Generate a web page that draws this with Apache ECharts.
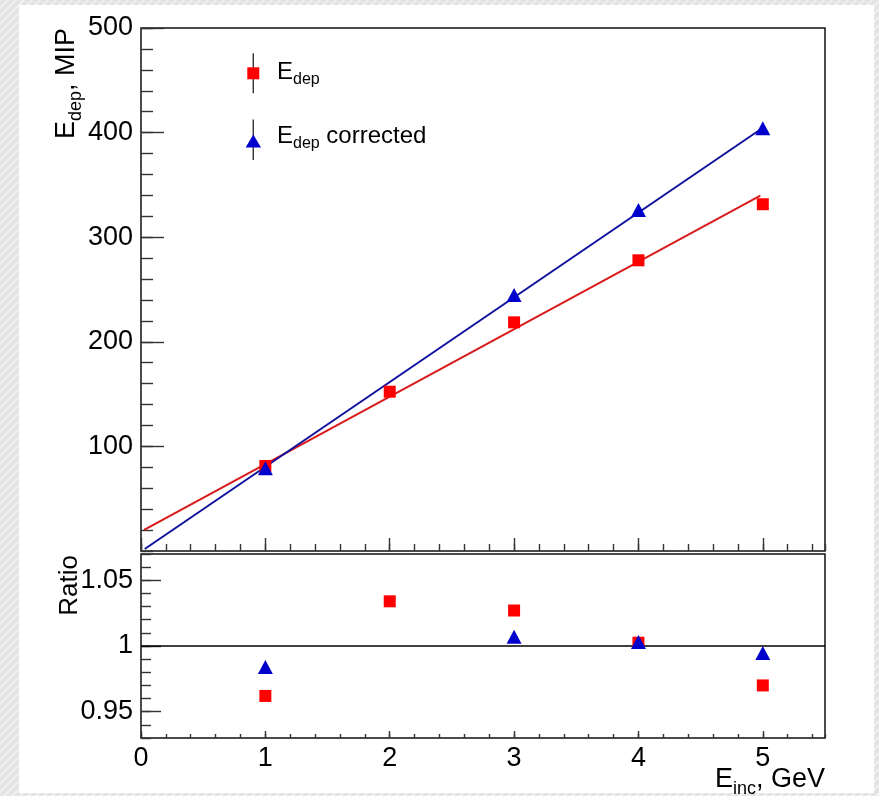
<!DOCTYPE html>
<html><head><meta charset="utf-8">
<script src="https://cdn.jsdelivr.net/npm/echarts@6/dist/echarts.min.js"></script>
<style>html,body{margin:0;padding:0;background:#fff}#c{width:879px;height:796px}</style>
</head><body><div id="c"></div>
<script>
// ---- data ----
const energies = [1, 2, 3, 4, 5];
const edep = [81.3, 152.3, 218.6, 277.9, 331.5];
const corrEnergies = [1, 3, 4, 5];
const edepCorr = [79.1, 244.7, 326.0, 404.1];
const fitEdepX = [0.025, 4.98];
const fitEdepY = [20.1, 339.7];
const fitCorrX = [0.03, 4.98];
const fitCorrY = [1.9, 403.0];
const ratioEdep = [0.962, 1.034, 1.027, 1.0025, 0.970];
const ratioCorr = [0.984, 1.007, 1.003, 0.9947];
const xMajorTicks = [0, 1, 2, 3, 4, 5];
const yTopTicks = [100, 200, 300, 400, 500];
const yRatioTicks = [0.95, 1, 1.05];

const F = 'Liberation Sans, Arial, sans-serif';
const zip = (a, b) => a.map((v, i) => [v, b[i]]);

// hatch pattern for outer background
const pc = document.createElement('canvas');
pc.width = 8; pc.height = 8;
const g = pc.getContext('2d');
g.fillStyle = '#e3e3e3'; g.fillRect(0, 0, 8, 8);
g.strokeStyle = '#f1f1f1'; g.lineWidth = 2;
g.beginPath();
g.moveTo(0, 8); g.lineTo(8, 0);
g.moveTo(-4, 4); g.lineTo(4, -4);
g.moveTo(4, 12); g.lineTo(12, 4);
g.stroke();

const chart = echarts.init(document.getElementById('c'), null, {renderer: 'canvas'});

const tickStyle = {color: '#333', width: 1.4};
function majorX(grid, showLabel, len) {
  return {
    type: 'value', gridIndex: grid, position: 'bottom', min: 0, max: 5.5,
    axisLine: {show: false}, splitLine: {show: false},
    axisTick: {show: true, inside: true, length: len, customValues: xMajorTicks, lineStyle: tickStyle},
    axisLabel: {show: showLabel, customValues: xMajorTicks, fontSize: 27, fontFamily: F, color: '#000', margin: 7}
  };
}
function minorX(grid, len) {
  return {
    type: 'value', gridIndex: grid, position: 'bottom', min: 0, max: 5.5, interval: 0.2,
    axisLine: {show: false}, splitLine: {show: false}, axisLabel: {show: false},
    axisTick: {show: true, inside: true, length: len, lineStyle: tickStyle}
  };
}
const richTitle = {
  m: {fontSize: 27, fontFamily: F, fill: '#000', lineHeight: 32, verticalAlign: 'top'},
  s: {fontSize: 18, fontFamily: F, fill: '#000', lineHeight: 18, verticalAlign: 'bottom'}
};
const richLegend = {
  m: {fontSize: 24, fontFamily: F, fill: '#000', lineHeight: 28, verticalAlign: 'top'},
  s: {fontSize: 16, fontFamily: F, fill: '#000', lineHeight: 13, verticalAlign: 'bottom'}
};

const option = {
  animation: false,
  backgroundColor: '#fff',
  grid: [
    {left: 141, top: 28, width: 684, height: 523, show: true, borderColor: '#111', borderWidth: 1.5, backgroundColor: 'transparent'},
    {left: 141, top: 554, width: 684, height: 184, show: true, borderColor: '#111', borderWidth: 1.5, backgroundColor: 'transparent'}
  ],
  xAxis: [
    majorX(0, false, 13), minorX(0, 7),
    majorX(1, true, 7), minorX(1, 4)
  ],
  yAxis: [
    {type: 'value', gridIndex: 0, position: 'left', min: 0, max: 500,
     axisLine: {show: false}, splitLine: {show: false},
     axisTick: {show: true, inside: true, length: 23, customValues: yTopTicks, lineStyle: tickStyle},
     axisLabel: {customValues: yTopTicks, fontSize: 27, fontFamily: F, color: '#000', margin: 8}},
    {type: 'value', gridIndex: 0, position: 'left', min: 0, max: 500, interval: 20,
     axisLine: {show: false}, splitLine: {show: false}, axisLabel: {show: false},
     axisTick: {show: true, inside: true, length: 12, lineStyle: tickStyle}},
    {type: 'value', gridIndex: 1, position: 'left', min: 0.93, max: 1.07,
     axisLine: {show: false}, splitLine: {show: false},
     axisTick: {show: true, inside: true, length: 20, customValues: yRatioTicks, lineStyle: tickStyle},
     axisLabel: {customValues: yRatioTicks, fontSize: 27, fontFamily: F, color: '#000', margin: 8,
                 formatter: v => String(+v.toFixed(2))}},
    {type: 'value', gridIndex: 1, position: 'left', min: 0.93, max: 1.07, interval: 0.01,
     axisLine: {show: false}, splitLine: {show: false}, axisLabel: {show: false},
     axisTick: {show: true, inside: true, length: 10, lineStyle: tickStyle}}
  ],
  series: [
    {type: 'line', xAxisIndex: 0, yAxisIndex: 0, data: zip(fitEdepX, fitEdepY), showSymbol: false,
     lineStyle: {color: '#d81a1a', width: 2}, z: 2, silent: true},
    {type: 'line', xAxisIndex: 0, yAxisIndex: 0, data: zip(fitCorrX, fitCorrY), showSymbol: false,
     lineStyle: {color: '#10109e', width: 2}, z: 2, silent: true},
    {type: 'scatter', xAxisIndex: 0, yAxisIndex: 0, data: zip(energies, edep), symbol: 'rect', symbolSize: 12,
     itemStyle: {color: '#ff0000', opacity: 1}, z: 3},
    {type: 'scatter', xAxisIndex: 0, yAxisIndex: 0, data: zip(corrEnergies, edepCorr), symbol: 'triangle', symbolSize: [15, 14],
     itemStyle: {color: '#0000cc', opacity: 1}, z: 4},
    {type: 'scatter', xAxisIndex: 2, yAxisIndex: 2, data: zip(energies, ratioEdep), symbol: 'rect', symbolSize: 12,
     itemStyle: {color: '#ff0000', opacity: 1}, z: 3,
     markLine: {silent: true, symbol: 'none', label: {show: false}, lineStyle: {color: '#000', width: 1.5, type: 'solid'},
                data: [{yAxis: 1}], z: 1}},
    {type: 'scatter', xAxisIndex: 2, yAxisIndex: 2, data: zip(corrEnergies, ratioCorr), symbol: 'triangle', symbolSize: [15, 14],
     itemStyle: {color: '#0000cc', opacity: 1}, z: 4}
  ],
  graphic: [
    {type: 'rect', z: -200, silent: true, shape: {x: 0, y: 0, width: 879, height: 796},
     style: {fill: {image: pc, repeat: 'repeat'}}},
    {type: 'rect', z: -100, silent: true, shape: {x: 19, y: 5, width: 855, height: 788}, style: {fill: '#fff'}},
    // legend
    {type: 'line', z: 10, shape: {x1: 253.3, y1: 53.3, x2: 253.3, y2: 93.3}, style: {stroke: '#333', lineWidth: 1.4}},
    {type: 'rect', z: 11, shape: {x: 247.3, y: 67.3, width: 12, height: 12}, style: {fill: '#ff0000'}},
    {type: 'line', z: 10, shape: {x1: 253.3, y1: 119.5, x2: 253.3, y2: 160}, style: {stroke: '#333', lineWidth: 1.4}},
    {type: 'polygon', z: 11, shape: {points: [[253.3, 134.5], [261, 147.5], [245.6, 147.5]]}, style: {fill: '#0000cc'}},
    {type: 'text', z: 10, x: 277, y: 74, style: {
      text: '{m|E}{s|dep}', align: 'left', verticalAlign: 'middle', rich: richLegend}},
    {type: 'text', z: 10, x: 277, y: 138, style: {
      text: '{m|E}{s|dep}{m| corrected}', align: 'left', verticalAlign: 'middle', rich: richLegend}},
    // axis titles
    {type: 'text', z: 10, x: 69, y: 28, rotation: Math.PI / 2, style: {
      text: '{m|E}{s|dep}{m|, MIP}', align: 'right', verticalAlign: 'middle', rich: richTitle}},
    {type: 'text', z: 10, x: 70, y: 555, rotation: Math.PI / 2, style: {
      text: 'Ratio', align: 'right', verticalAlign: 'middle', fontSize: 26, fontFamily: F, fill: '#000'}},
    {type: 'text', z: 10, x: 825, y: 782.5, style: {
      text: '{m|E}{s|inc}{m|, GeV}', align: 'right', verticalAlign: 'middle', rich: richTitle}}
  ]
};
chart.setOption(option);
</script>
</body></html>
